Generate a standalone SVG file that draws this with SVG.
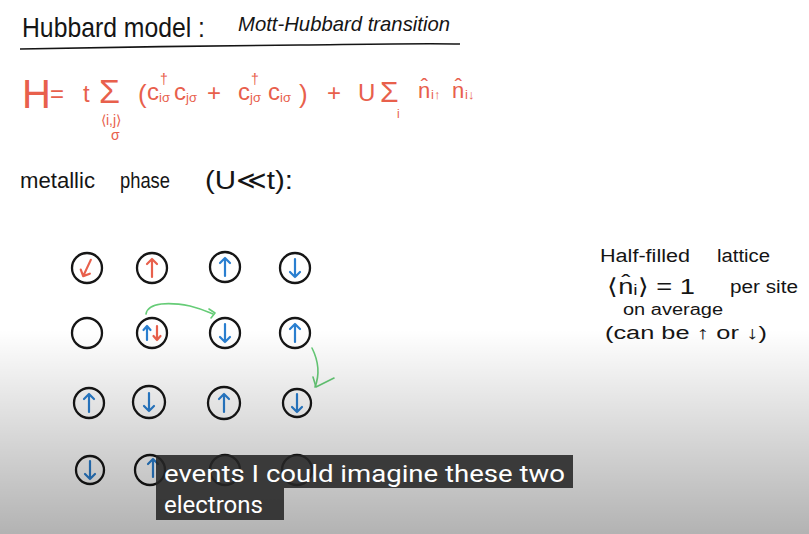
<svg xmlns="http://www.w3.org/2000/svg" xmlns:xlink="http://www.w3.org/1999/xlink" width="809" height="534" viewBox="0 0 809 534">
<style>
.ink{font-family:"Liberation Sans",Arial,sans-serif;fill:#151515}
.red{font-family:"Liberation Sans",Arial,sans-serif;fill:#e8604c}
.site{fill:none;stroke:#161616;stroke-width:2.3}
.sb{fill:none;stroke:#2a7fd0;stroke-width:2.2;stroke-linecap:round;stroke-linejoin:round}
.sr{fill:none;stroke:#e8604c;stroke-width:2.2;stroke-linecap:round;stroke-linejoin:round}
.hop{fill:none;stroke:#66cc77;stroke-width:1.6;stroke-linecap:round;stroke-linejoin:round}
.cap{font-family:Roboto,"Liberation Sans",sans-serif;font-size:24px;fill:#ffffff}
</style>
<defs>
<linearGradient id="shade" x1="0" y1="330" x2="0" y2="534" gradientUnits="userSpaceOnUse">
<stop offset="0" stop-color="#000" stop-opacity="0"/>
<stop offset="1" stop-color="#000" stop-opacity="0.3"/>
</linearGradient>
<path id="up" d="M0,9 V-9 M-5,-4 L0,-9 L5,-4"/>
<path id="dn" d="M0,-9 V9 M-5,4 L0,9 L5,4"/>
<path id="upS" d="M0,7 V-7 M-3.5,-3 L0,-7 L3.5,-3"/>
<path id="dnS" d="M0,-7 V7 M-3.5,3 L0,7 L3.5,3"/>
</defs>
<rect width="809" height="534" fill="#ffffff"/>

<g id="title">
<text class="ink" x="22" y="37" font-size="28" textLength="183" lengthAdjust="spacingAndGlyphs">Hubbard model :</text>
<text class="ink" x="238" y="31" font-size="21" font-style="italic" textLength="212" lengthAdjust="spacingAndGlyphs">Mott-Hubbard transition</text>
<path d="M20,49 C120,47 200,46 300,45 C380,44 430,43 460,44" fill="none" stroke="#151515" stroke-width="1.6"/>
</g>

<g id="hamiltonian">
<text class="red" x="22" y="108" font-size="40">H</text>
<text class="red" x="50" y="102" font-size="24">=</text>
<text class="red" x="83" y="102" font-size="24">t</text>
<text class="red" x="99" y="103" font-size="34">Σ</text>
<text class="red" x="101" y="125" font-size="14">⟨i,j⟩</text>
<text class="red" x="111" y="140" font-size="14">σ</text>
<text class="red" x="138" y="103" font-size="26">(</text>
<text class="red" x="147" y="100" font-size="24">c</text>
<text class="red" x="160" y="84" font-size="14">†</text>
<text class="red" x="159" y="102" font-size="13">iσ</text>
<text class="red" x="174" y="100" font-size="24">c</text>
<text class="red" x="186" y="102" font-size="13">jσ</text>
<text class="red" x="207" y="101" font-size="24">+</text>
<text class="red" x="238" y="100" font-size="24">c</text>
<text class="red" x="251" y="84" font-size="14">†</text>
<text class="red" x="250" y="102" font-size="13">jσ</text>
<text class="red" x="268" y="100" font-size="24">c</text>
<text class="red" x="280" y="102" font-size="13">iσ</text>
<text class="red" x="299" y="103" font-size="26">)</text>
<text class="red" x="327" y="101" font-size="24">+</text>
<text class="red" x="358" y="101" font-size="24">U</text>
<text class="red" x="380" y="102" font-size="30">Σ</text>
<text class="red" x="397" y="118" font-size="12">i</text>
<text class="red" x="418" y="98" font-size="22">n̂</text>
<text class="red" x="431" y="99" font-size="13">i↑</text>
<text class="red" x="452" y="98" font-size="22">n̂</text>
<text class="red" x="465" y="99" font-size="13">i↓</text>
</g>

<g id="phase-label">
<text class="ink" x="20" y="188" font-size="22" textLength="75" lengthAdjust="spacingAndGlyphs">metallic</text>
<text class="ink" x="120" y="188" font-size="22" textLength="50" lengthAdjust="spacingAndGlyphs">phase</text>
<text class="ink" x="205" y="189" font-size="26" textLength="88" lengthAdjust="spacingAndGlyphs">(U≪t):</text>
</g>

<g id="note">
<text class="ink" x="600" y="262" font-size="18" textLength="90" lengthAdjust="spacingAndGlyphs">Half-filled</text>
<text class="ink" x="717" y="262" font-size="18" textLength="53" lengthAdjust="spacingAndGlyphs">lattice</text>
<text class="ink" x="607" y="294" font-size="22" textLength="88" lengthAdjust="spacingAndGlyphs">⟨n̂ᵢ⟩ = 1</text>
<text class="ink" x="730" y="293" font-size="18" textLength="68" lengthAdjust="spacingAndGlyphs">per site</text>
<text class="ink" x="623" y="315" font-size="16" textLength="100" lengthAdjust="spacingAndGlyphs">on average</text>
<text class="ink" x="605" y="339" font-size="18" textLength="162" lengthAdjust="spacingAndGlyphs">(can be ↑ or ↓)</text>
</g>

<g id="site-1-1"><circle class="site" cx="87" cy="268" r="15"/><use href="#dn" class="sr" transform="translate(87,268) rotate(25)"/></g>
<g id="site-1-2"><circle class="site" cx="152" cy="268" r="15"/><use href="#up" class="sr" transform="translate(152,268)"/></g>
<g id="site-1-3"><circle class="site" cx="225" cy="267" r="15"/><use href="#up" class="sb" transform="translate(225,267)"/></g>
<g id="site-1-4"><circle class="site" cx="295" cy="268" r="15"/><use href="#dn" class="sb" transform="translate(295,268)"/></g>

<g id="site-2-1"><circle class="site" cx="87" cy="333" r="15"/></g>
<g id="site-2-2"><circle class="site" cx="152" cy="333" r="15"/><use href="#upS" class="sb" transform="translate(147,333)"/><use href="#dnS" class="sr" transform="translate(157,333)"/></g>
<g id="site-2-3"><circle class="site" cx="225" cy="333" r="15"/><use href="#dn" class="sb" transform="translate(225,333)"/></g>
<g id="site-2-4"><circle class="site" cx="295" cy="333" r="15"/><use href="#up" class="sb" transform="translate(295,333)"/></g>

<g id="site-3-1"><circle class="site" cx="89" cy="403" r="15"/><use href="#up" class="sb" transform="translate(89,403)"/></g>
<g id="site-3-2"><circle class="site" cx="149" cy="402" r="16"/><use href="#dn" class="sb" transform="translate(149,402)"/></g>
<g id="site-3-3"><circle class="site" cx="224" cy="403" r="16"/><use href="#up" class="sb" transform="translate(224,403)"/></g>
<g id="site-3-4"><circle class="site" cx="297" cy="403" r="14"/><use href="#dn" class="sb" transform="translate(297,403)"/></g>

<g id="site-4-1"><circle class="site" cx="90" cy="470" r="14"/><use href="#dn" class="sb" transform="translate(90,470)"/></g>
<g id="site-4-2"><circle class="site" cx="150" cy="470" r="15"/><use href="#up" class="sb" transform="translate(153,468)"/></g>
<g id="site-4-3"><circle class="site" cx="225" cy="470" r="15"/></g>
<g id="site-4-4"><circle class="site" cx="297" cy="470" r="15"/></g>

<g id="connectors">
<path class="hop" d="M146,314 C148,302 170,302 190,306 C202,309 208,312 213,314"/>
<path class="hop" d="M209,309 L215,313 L211,318"/>
<path class="hop" d="M312,348 C318,360 320,374 315,387"/>
<path class="hop" d="M334,378 L316,387 L313,377"/>
</g>

<rect x="0" y="330" width="809" height="204" fill="url(#shade)"/>

<g id="caption">
<rect x="156" y="455" width="417" height="33" fill="#262626" fill-opacity="0.88"/>
<rect x="156" y="488" width="128" height="32" fill="#262626" fill-opacity="0.88"/>
<text class="cap" x="164" y="482" textLength="401" lengthAdjust="spacingAndGlyphs">events I could imagine these two</text>
<text class="cap" x="164" y="513">electrons</text>
</g>
</svg>
